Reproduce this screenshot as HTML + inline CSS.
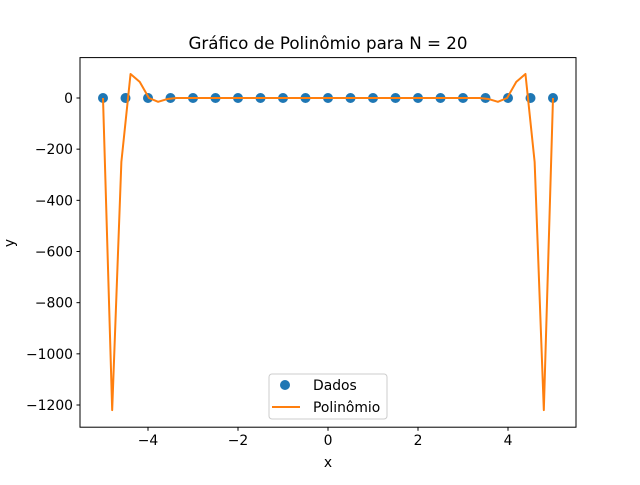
<!DOCTYPE html>
<html><head><meta charset="utf-8"><style>
body{margin:0;background:#fff}
svg{font-family:"DejaVu Sans","Liberation Sans",sans-serif}
</style></head><body>
<svg id="c" width="640" height="480" xmlns="http://www.w3.org/2000/svg">
<rect width="640" height="480" fill="#fff"/>
<text x="328" y="49" font-size="16.7" text-anchor="middle">Gráfico de Polinômio para N = 20</text>
<g id="plot"></g>
<rect x="80" y="57.6" width="496" height="369.6" fill="none" stroke="#000" stroke-width="1"/>
<g id="ticks" font-size="13.9"></g>
<text x="328" y="467" font-size="13.9" text-anchor="middle">x</text>
<text x="14" y="243" font-size="13.9" text-anchor="middle" transform="rotate(-90 14 243)">y</text>
<g>
<rect x="269" y="374" width="118" height="45" rx="3" fill="#fff" fill-opacity="0.8" stroke="#ccc"/>
<circle cx="285" cy="385" r="5" fill="#1f77b4"/>
<text x="313" y="390" font-size="13.9">Dados</text>
<line x1="272" y1="407" x2="300" y2="407" stroke="#ff7f0e" stroke-width="2"/>
<text x="313" y="412" font-size="13.9">Polinômio</text>
</g>
</svg>
<script>
const dataX = [-5,-4.5,-4,-3.5,-3,-2.5,-2,-1.5,-1,-0.5,0,0.5,1,1.5,2,2.5,3,3.5,4,4.5,5];
const dataY = [0,0,0,0,0,0,0,0,0,0,0,0,0,0,0,0,0,0,0,0,0];
const polyHead = [0,-1220,-250,94,63,0,-15,-4];
const xTicks = [-4,-2,0,2,4];
const yTicks = [0,-200,-400,-600,-800,-1000,-1200];
const N = 50;
const polyY = [];
for (let i=0;i<N;i++){ polyY.push(i<polyHead.length?polyHead[i]:(N-1-i<polyHead.length?polyHead[N-1-i]:0)); }
const polyX = [];
for (let i=0;i<N;i++) polyX.push(-5+10*i/(N-1));
const sx = v => 328 + v*45;
const sy = v => 98 - v*(307/1200);
const NS="http://www.w3.org/2000/svg";
const plot=document.getElementById('plot'), tk=document.getElementById('ticks');
function mk(t,a,p){const e=document.createElementNS(NS,t);for(const k in a)e.setAttribute(k,a[k]);p.appendChild(e);return e;}
dataX.forEach((x,i)=>{
  const c=mk('circle',{cx:sx(x),cy:sy(dataY[i]),r:5,fill:'#1f77b4'},plot);
  
  
});
const pl=mk('polyline',{points:polyX.map((x,i)=>sx(x)+','+sy(polyY[i])).join(' '),fill:'none',stroke:'#ff7f0e','stroke-width':2,'stroke-linejoin':'round'},plot);


xTicks.forEach(v=>{
  mk('line',{x1:sx(v),x2:sx(v),y1:427.2,y2:430.7,stroke:'#000'},tk);
  const t=mk('text',{x:sx(v),y:445,'text-anchor':'middle'},tk);
  t.textContent=(v<0?'\u2212':'')+Math.abs(v);
  
  
});
yTicks.forEach(v=>{
  mk('line',{x1:76.5,x2:80,y1:sy(v),y2:sy(v),stroke:'#000'},tk);
  const t=mk('text',{x:73,y:sy(v)+5,'text-anchor':'end'},tk);
  t.textContent=(v<0?'\u2212':'')+Math.abs(v);
  
  
});
</script>
</body></html>
